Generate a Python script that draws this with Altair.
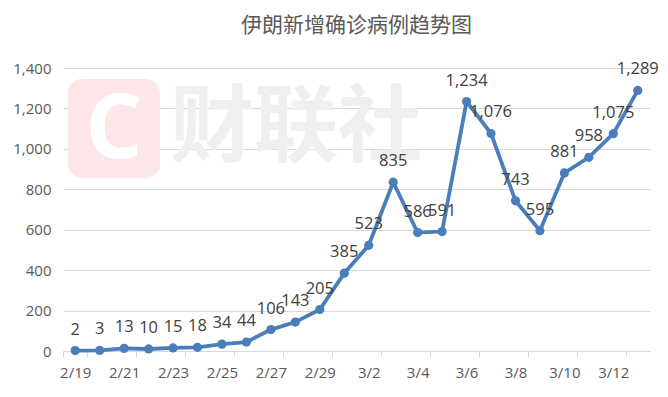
import altair as alt
import pandas as pd

dates = ["2/19", "2/20", "2/21", "2/22", "2/23", "2/24", "2/25", "2/26", "2/27", "2/28", "2/29",
         "3/1", "3/2", "3/3", "3/4", "3/5", "3/6", "3/7", "3/8", "3/9", "3/10", "3/11", "3/12", "3/13"]
cases = [2, 3, 13, 10, 15, 18, 34, 44, 106, 143, 205, 385, 523, 835, 586, 591,
         1234, 1076, 743, 595, 881, 958, 1075, 1289]
label_dates = dates[::2]
y_ticks = [0, 200, 400, 600, 800, 1000, 1200, 1400]
watermark = ["财联社"]

df = pd.DataFrame({"date": dates, "cases": cases})
wm_df = pd.DataFrame({"t": watermark})

W, H = 587, 283

x = alt.X("date:N", sort=dates, title=None,
          scale=alt.Scale(paddingInner=0, paddingOuter=0),
          axis=alt.Axis(values=label_dates, labelAngle=0, labelFontSize=15,
                        labelColor="#595959", labelFont="Open Sans", labelPadding=8,
                        tickBand="extent", tickColor="#d9d9d9", tickSize=6,
                        domainColor="#d9d9d9", grid=False))
y = alt.Y("cases:Q", title=None,
          scale=alt.Scale(domain=[0, 1400], nice=False),
          axis=alt.Axis(values=y_ticks, format=",d", labelFontSize=15,
                        labelColor="#595959", labelFont="Open Sans", labelPadding=12,
                        gridColor="#d9d9d9", domain=False, ticks=False))

# watermark (single row)
wm_box = alt.Chart(wm_df).mark_rect(color="#fde6e8", cornerRadius=14).encode(
    x=alt.value(5), x2=alt.value(97), y=alt.value(11), y2=alt.value(110))
wm_c = alt.Chart(wm_df).mark_text(text="C", color="white", fontSize=90, fontWeight="bold",
                                  font="Open Sans").encode(x=alt.value(51), y=alt.value(63))
wm_text = alt.Chart(wm_df).mark_text(color="#efefef", fontSize=84, fontWeight="bold",
                                     font="Noto Sans CJK SC").encode(
    x=alt.value(233), y=alt.value(62), text="t:N")

base = alt.Chart(df).encode(x=x, y=y)
line = base.mark_line(color="#4a7ebb", strokeWidth=3.8)
pts = base.mark_point(filled=True, color="#4a7ebb", size=85, opacity=1)
labels = base.mark_text(dy=-21, fontSize=16.5, color="#404040", font="Open Sans").encode(
    text=alt.Text("cases:Q", format=","))

chart = alt.layer(wm_box, wm_c, wm_text, line, pts, labels).properties(
    width=W, height=H,
    title=alt.TitleParams("伊朗新增确诊病例趋势图", font="Noto Sans CJK SC", fontSize=21,
                          fontWeight="normal", color="#595959", anchor="middle", offset=25),
    autosize=alt.AutoSizeParams(type="none"),
    padding={"left": 55, "top": 60, "right": 10, "bottom": 40},
).configure_view(stroke=None)

chart.save("out.html", embed_options={"renderer": "svg", "actions": False})
